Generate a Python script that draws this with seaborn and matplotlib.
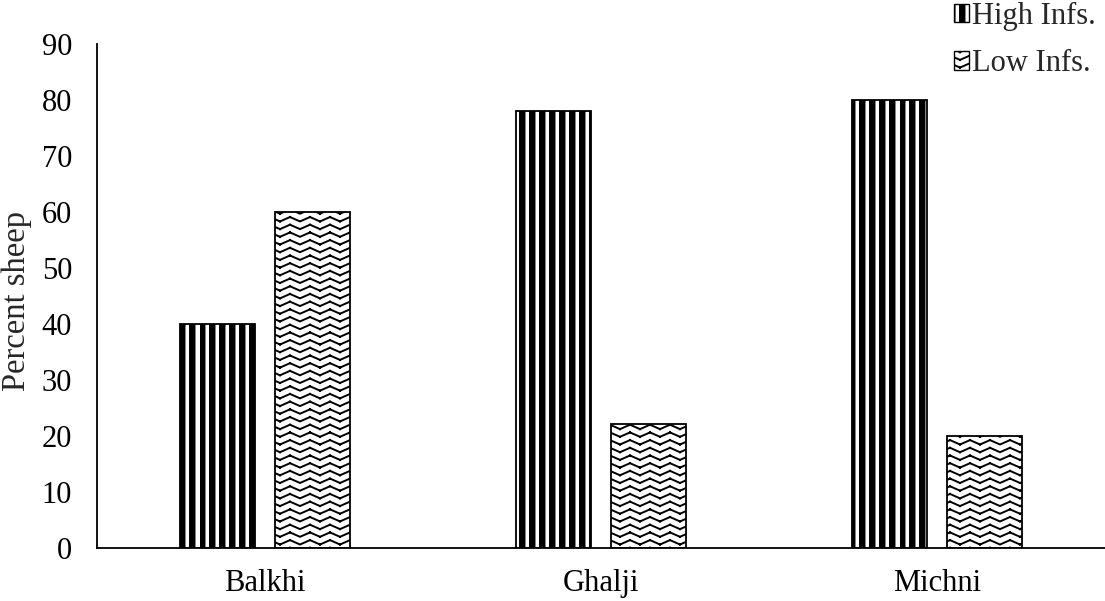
import warnings

import numpy as np
import pandas as pd
import seaborn as sns
from matplotlib import hatch as mhatch
from matplotlib import pyplot as plt
from matplotlib.patches import Patch
from matplotlib.path import Path

warnings.filterwarnings("ignore")

breeds = ["Balkhi", "Ghalji", "Michni"]
high_infs = [40, 78, 80]
low_infs = [60, 22.2, 20]
series_names = ["High Infs.", "Low Infs."]
y_ticks = [0, 10, 20, 30, 40, 50, 60, 70, 80, 90]


class ThickStripes(mhatch.HatchPatternBase):
    # 'k': thick vertical bars, filled rectangles in the hatch tile
    def __init__(self, hatch, density):
        self.num_bars = 10 if "k" in hatch else 0
        self.num_vertices = self.num_bars * 5

    def set_vertices_and_codes(self, vertices, codes):
        w = 0.045
        for i in range(self.num_bars):
            x0 = i / self.num_bars
            vertices[i * 5:(i + 1) * 5] = [
                (x0, 0), (x0 + w, 0), (x0 + w, 1), (x0, 1), (x0, 0)
            ]
            codes[i * 5:(i + 1) * 5] = [
                Path.MOVETO, Path.LINETO, Path.LINETO, Path.LINETO, Path.CLOSEPOLY
            ]


class Waves(mhatch.HatchPatternBase):
    # 'w': rows of zigzag waves, drawn as separate segments
    def __init__(self, hatch, density):
        self.rows = 13 if "w" in hatch else 0
        self.half_periods = 10
        self.num_vertices = self.rows * self.half_periods * 2

    def set_vertices_and_codes(self, vertices, codes):
        amp = 0.022
        n = self.half_periods
        xs = np.linspace(0, 1, n + 1)
        k = 0
        for r in range(self.rows):
            y0 = (r + 0.5) / self.rows
            ys = y0 + amp * np.where(np.arange(n + 1) % 2 == 0, -1, 1)
            for j in range(n):
                vertices[k] = (xs[j], ys[j])
                vertices[k + 1] = (xs[j + 1], ys[j + 1])
                codes[k] = Path.MOVETO
                codes[k + 1] = Path.LINETO
                k += 2


mhatch._hatch_types.extend([ThickStripes, Waves])

sns.set_style("white")
plt.rcParams["font.family"] = ["Liberation Serif", "DejaVu Serif"]
plt.rcParams["hatch.linewidth"] = 1.4
plt.rcParams["hatch.color"] = "black"

df = pd.DataFrame(
    {
        "breed": breeds * 2,
        "series": [series_names[0]] * 3 + [series_names[1]] * 3,
        "percent": high_infs + low_infs,
    }
)

fig = plt.figure(figsize=(11.05, 6.01), dpi=100)
ax = fig.add_axes([0.0878, 0.0882, 0.9122, 0.8386])

sns.barplot(
    data=df,
    x="breed",
    y="percent",
    hue="series",
    hue_order=series_names,
    order=breeds,
    width=0.565,
    gap=0.21,
    palette=["white", "white"],
    edgecolor="black",
    linewidth=1.3,
    errorbar=None,
    legend=False,
    ax=ax,
)

hatches = ["k", "w"]
for container, h in zip(ax.containers, hatches):
    for bar in container:
        bar.set_hatch(h)
        bar.set_edgecolor("black")

ax.set_xlim(-0.5, 2.5)
ax.set_ylim(0, 90)
ax.set_yticks(y_ticks)
ax.set_xlabel("")
ax.set_ylabel("Percent sheep", fontsize=23.5)
ax.yaxis.set_label_coords(-0.065, 0.49)
ax.tick_params(axis="both", length=0, labelsize=22, colors="black")
ax.tick_params(axis="y", pad=18)
ax.tick_params(axis="x", pad=15)

sns.despine(ax=ax)
for side in ["left", "bottom"]:
    ax.spines[side].set_color("black")
    ax.spines[side].set_linewidth(1.3)

handles = [
    Patch(facecolor="white", edgecolor="black", hatch=h, label=name)
    for h, name in zip(hatches, series_names)
]
fig.legend(
    handles=handles,
    loc="upper right",
    bbox_to_anchor=(0.992, 0.997),
    frameon=False,
    fontsize=22,
    handlelength=0.5,
    handleheight=0.55,
    handletextpad=0.1,
    labelspacing=0.6,
    borderpad=0,
    borderaxespad=0,
)

fig.savefig("out.png", dpi=100)
